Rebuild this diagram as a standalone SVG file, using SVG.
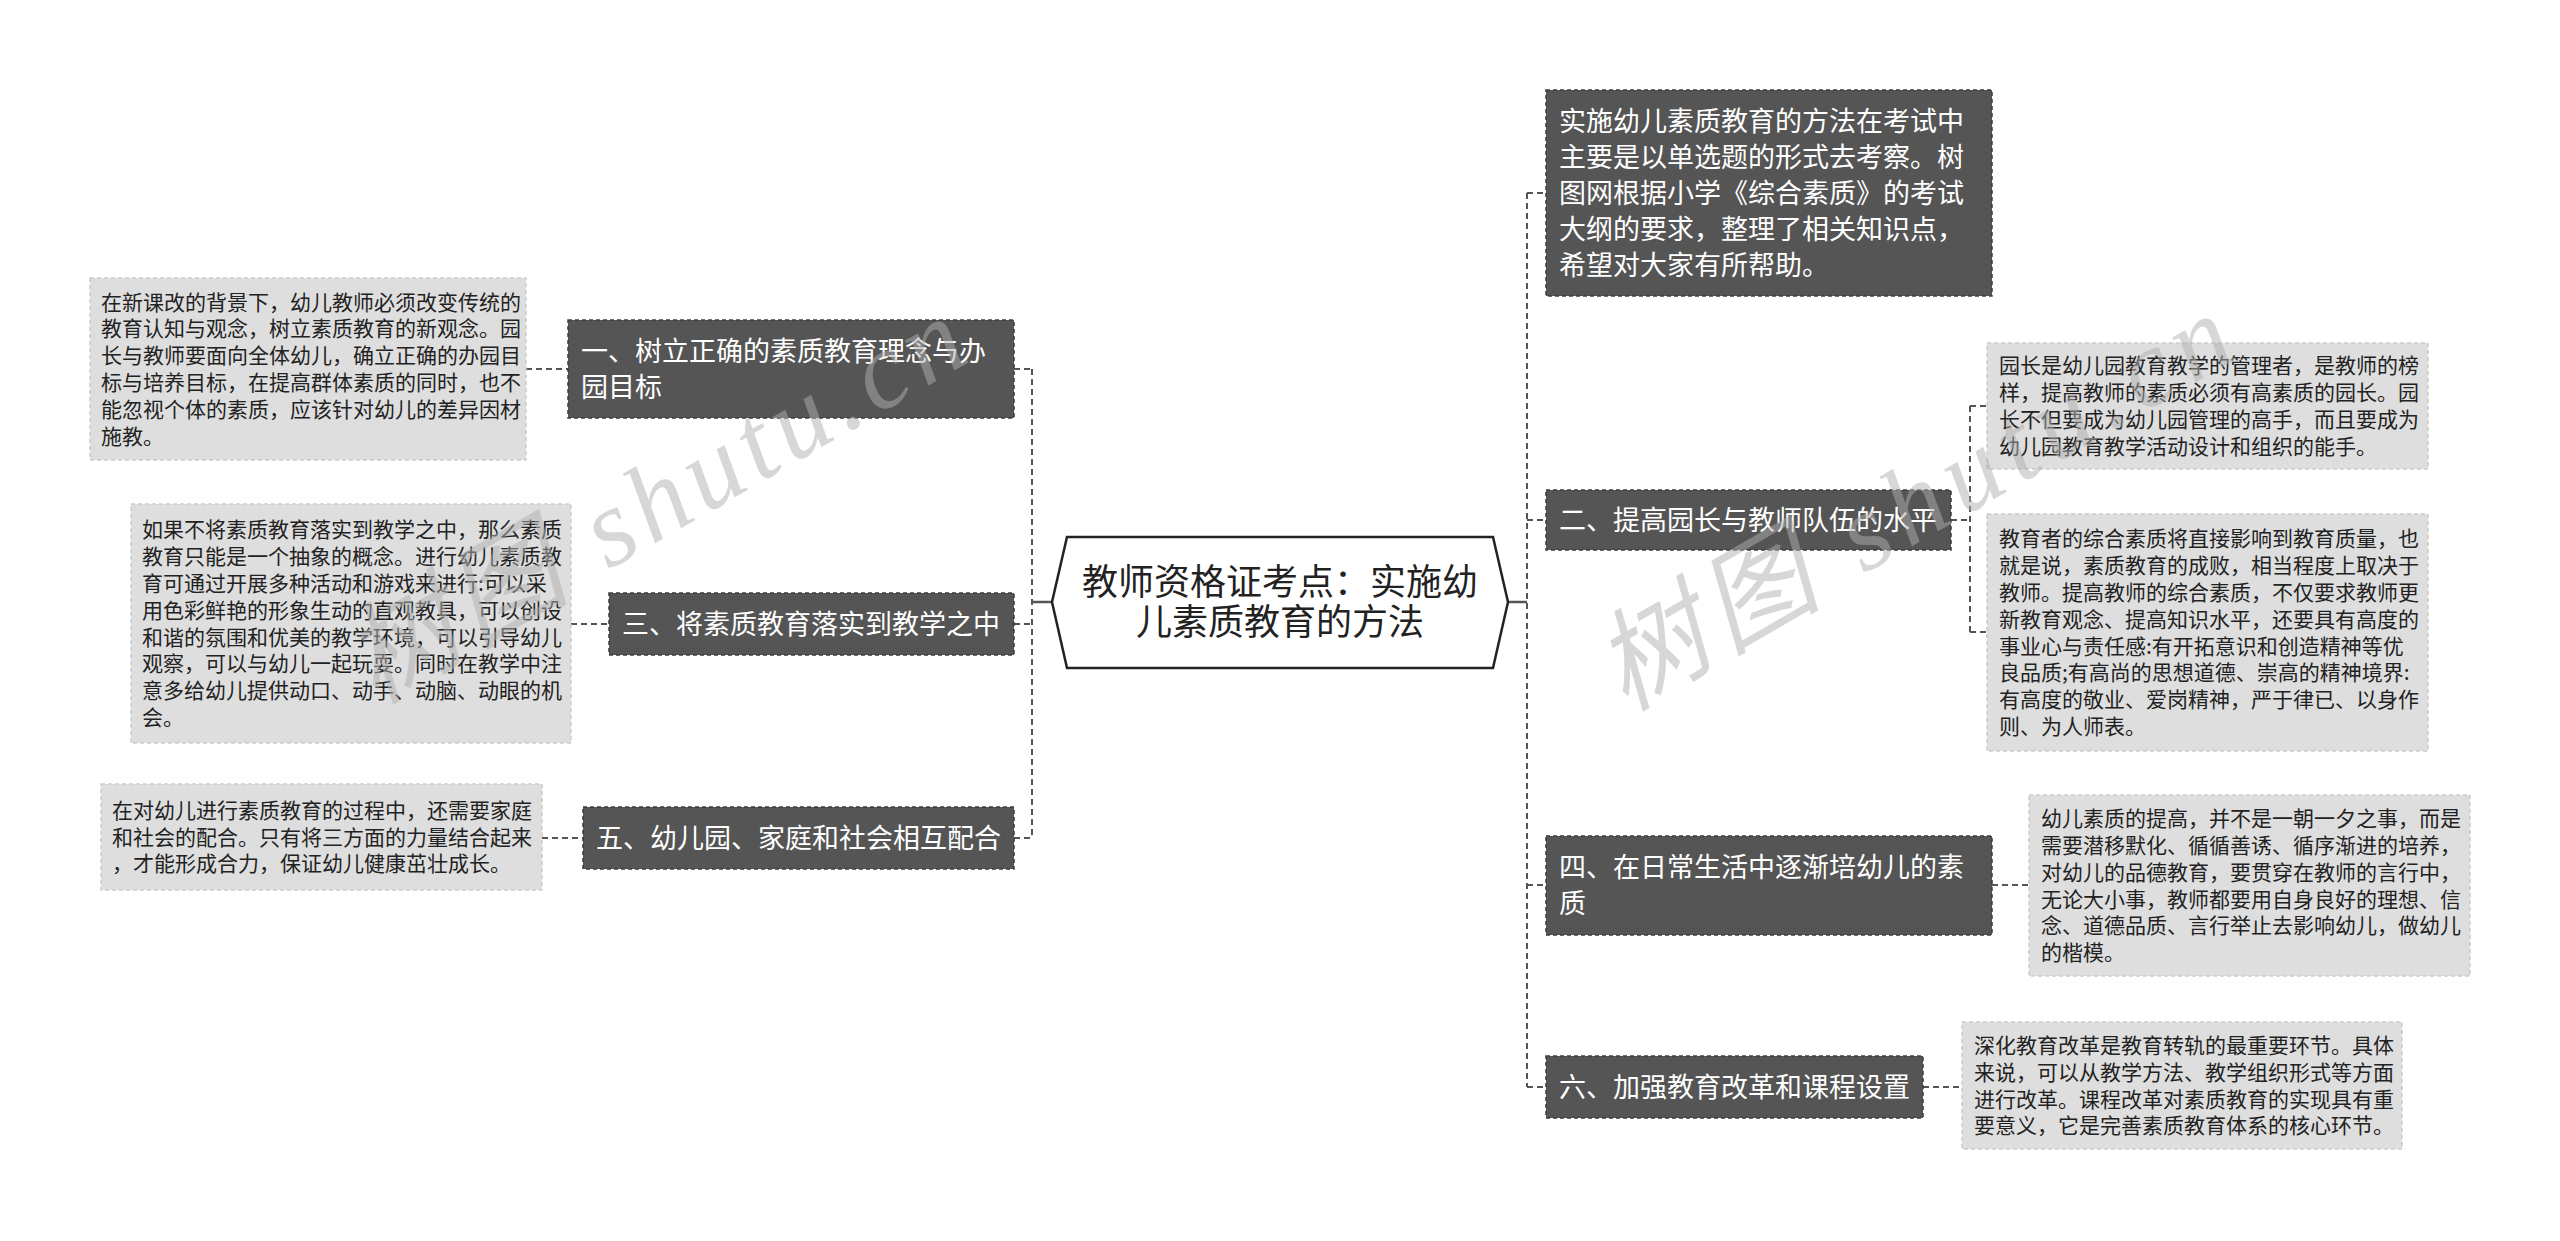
<svg xmlns="http://www.w3.org/2000/svg" width="2560" height="1241" viewBox="0 0 2560 1241">
<style>
.dark{fill:#555555;stroke:#3c3c3c;stroke-width:1.5;stroke-dasharray:4 3}
.light{fill:#dedede;stroke:#cccccc;stroke-width:1.5;stroke-dasharray:4 3}
.dt{font-family:"Noto Sans CJK SC","Noto Sans",sans-serif;font-size:27px;fill:#ffffff}
.lt{font-family:"Noto Sans CJK SC","Noto Sans",sans-serif;font-size:21px;fill:#222222}
.ct{font-family:"Noto Sans CJK SC","Noto Sans",sans-serif;font-size:36px;fill:#222222}
.conn{stroke:#555555;stroke-width:2;fill:none;stroke-dasharray:6 4}
.solid{stroke:#555555;stroke-width:2.5;fill:none}
.wm{font-family:"Liberation Serif","Noto Sans CJK SC",serif;font-style:italic;font-size:110px;fill:#b0b0b0;opacity:0.5}
</style>
<rect width="2560" height="1241" fill="#ffffff"/>
<g id="connectors">
<path class="conn" d="M1032 369V838M1014 369H1032M1014 624H1032M1014 838H1032"/>
<path class="solid" d="M1032 602H1052M1508 602H1527"/>
<path class="conn" d="M526 369H568M571 624H609M542 838H583"/>
<path class="conn" d="M1527 193V1087M1527 193H1546M1527 520H1546M1527 885H1546M1527 1087H1546"/>
<path class="conn" d="M1951 520H1970M1970 406V632M1970 406H1987M1970 632H1987"/>
<path class="conn" d="M1992 885H2029M1923 1087H1962"/>
</g>
<g id="center">
<polygon points="1052,602 1067,537 1493,537 1508,602 1493,668 1067,668" fill="#ffffff" stroke="#222222" stroke-width="2.5"/>
<text class="ct" text-anchor="middle"><tspan x="1280" y="595">教师资格证考点：实施幼</tspan><tspan x="1280" y="635">儿素质教育的方法</tspan></text>
</g>
<g id="n1">
<rect class="dark" x="568" y="320" width="446" height="98"/>
<text class="dt"><tspan x="581" y="361">一、树立正确的素质教育理念与办</tspan><tspan x="581" y="397">园目标</tspan></text>
</g>
<g id="n1a">
<rect class="light" x="90" y="278" width="436" height="182"/>
<text class="lt"><tspan x="101" y="309.6">在新课改的背景下，幼儿教师必须改变传统的</tspan><tspan x="101" y="336.4">教育认知与观念，树立素质教育的新观念。园</tspan><tspan x="101" y="363.2">长与教师要面向全体幼儿，确立正确的办园目</tspan><tspan x="101" y="390">标与培养目标，在提高群体素质的同时，也不</tspan><tspan x="101" y="416.8">能忽视个体的素质，应该针对幼儿的差异因材</tspan><tspan x="101" y="443.6">施教。</tspan></text>
</g>
<g id="n3">
<rect class="dark" x="609" y="593" width="405" height="62"/>
<text class="dt"><tspan x="622" y="634">三、将素质教育落实到教学之中</tspan></text>
</g>
<g id="n3a">
<rect class="light" x="131" y="504" width="440" height="239"/>
<text class="lt"><tspan x="142" y="537.3">如果不将素质教育落实到教学之中，那么素质</tspan><tspan x="142" y="564.1">教育只能是一个抽象的概念。进行幼儿素质教</tspan><tspan x="142" y="590.9">育可通过开展多种活动和游戏来进行:可以采</tspan><tspan x="142" y="617.7">用色彩鲜艳的形象生动的直观教具，可以创设</tspan><tspan x="142" y="644.5">和谐的氛围和优美的教学环境，可以引导幼儿</tspan><tspan x="142" y="671.3">观察，可以与幼儿一起玩耍。同时在教学中注</tspan><tspan x="142" y="698.1">意多给幼儿提供动口、动手、动脑、动眼的机</tspan><tspan x="142" y="724.9">会。</tspan></text>
</g>
<g id="n5">
<rect class="dark" x="583" y="807" width="431" height="62"/>
<text class="dt"><tspan x="596" y="848">五、幼儿园、家庭和社会相互配合</tspan></text>
</g>
<g id="n5a">
<rect class="light" x="101" y="784" width="441" height="106"/>
<text class="lt"><tspan x="112" y="817.8">在对幼儿进行素质教育的过程中，还需要家庭</tspan><tspan x="112" y="844.6">和社会的配合。只有将三方面的力量结合起来</tspan><tspan x="112" y="871.4">，才能形成合力，保证幼儿健康茁壮成长。</tspan></text>
</g>
<g id="n0">
<rect class="dark" x="1546" y="90" width="446" height="206"/>
<text class="dt"><tspan x="1559" y="131">实施幼儿素质教育的方法在考试中</tspan><tspan x="1559" y="167">主要是以单选题的形式去考察。树</tspan><tspan x="1559" y="203">图网根据小学《综合素质》的考试</tspan><tspan x="1559" y="239">大纲的要求，整理了相关知识点，</tspan><tspan x="1559" y="275">希望对大家有所帮助。</tspan></text>
</g>
<g id="n2">
<rect class="dark" x="1546" y="490" width="405" height="60"/>
<text class="dt"><tspan x="1559" y="530">二、提高园长与教师队伍的水平</tspan></text>
</g>
<g id="n2a">
<rect class="light" x="1987" y="343" width="441" height="126"/>
<text class="lt"><tspan x="1999" y="373.4">园长是幼儿园教育教学的管理者，是教师的榜</tspan><tspan x="1999" y="400.2">样，提高教师的素质必须有高素质的园长。园</tspan><tspan x="1999" y="427">长不但要成为幼儿园管理的高手，而且要成为</tspan><tspan x="1999" y="453.8">幼儿园教育教学活动设计和组织的能手。</tspan></text>
</g>
<g id="n2b">
<rect class="light" x="1987" y="514" width="441" height="237"/>
<text class="lt"><tspan x="1999" y="546.3">教育者的综合素质将直接影响到教育质量，也</tspan><tspan x="1999" y="573.1">就是说，素质教育的成败，相当程度上取决于</tspan><tspan x="1999" y="599.9">教师。提高教师的综合素质，不仅要求教师更</tspan><tspan x="1999" y="626.7">新教育观念、提高知识水平，还要具有高度的</tspan><tspan x="1999" y="653.5">事业心与责任感:有开拓意识和创造精神等优</tspan><tspan x="1999" y="680.3">良品质;有高尚的思想道德、崇高的精神境界:</tspan><tspan x="1999" y="707.1">有高度的敬业、爱岗精神，严于律已、以身作</tspan><tspan x="1999" y="733.9">则、为人师表。</tspan></text>
</g>
<g id="n4">
<rect class="dark" x="1546" y="836" width="446" height="99"/>
<text class="dt"><tspan x="1559" y="877">四、在日常生活中逐渐培幼儿的素</tspan><tspan x="1559" y="913">质</tspan></text>
</g>
<g id="n4a">
<rect class="light" x="2029" y="795" width="441" height="181"/>
<text class="lt"><tspan x="2041" y="826.1">幼儿素质的提高，并不是一朝一夕之事，而是</tspan><tspan x="2041" y="852.9">需要潜移默化、循循善诱、循序渐进的培养，</tspan><tspan x="2041" y="879.7">对幼儿的品德教育，要贯穿在教师的言行中，</tspan><tspan x="2041" y="906.5">无论大小事，教师都要用自身良好的理想、信</tspan><tspan x="2041" y="933.3">念、道德品质、言行举止去影响幼儿，做幼儿</tspan><tspan x="2041" y="960.1">的楷模。</tspan></text>
</g>
<g id="n6">
<rect class="dark" x="1546" y="1056" width="377" height="62"/>
<text class="dt"><tspan x="1559" y="1097">六、加强教育改革和课程设置</tspan></text>
</g>
<g id="n6a">
<rect class="light" x="1962" y="1022" width="440" height="127"/>
<text class="lt"><tspan x="1974" y="1052.9">深化教育改革是教育转轨的最重要环节。具体</tspan><tspan x="1974" y="1079.7">来说，可以从教学方法、教学组织形式等方面</tspan><tspan x="1974" y="1106.5">进行改革。课程改革对素质教育的实现具有重</tspan><tspan x="1974" y="1133.3">要意义，它是完善素质教育体系的核心环节。</tspan></text>
</g>
<g id="watermark">
<text class="wm" x="375" y="705" textLength="690" lengthAdjust="spacing" transform="rotate(-30 375 705)">树图 shutu.cn</text>
<text class="wm" x="1625" y="712" textLength="710" lengthAdjust="spacing" transform="rotate(-30 1625 712)">树图 shutu.cn</text>
</g>
</svg>
